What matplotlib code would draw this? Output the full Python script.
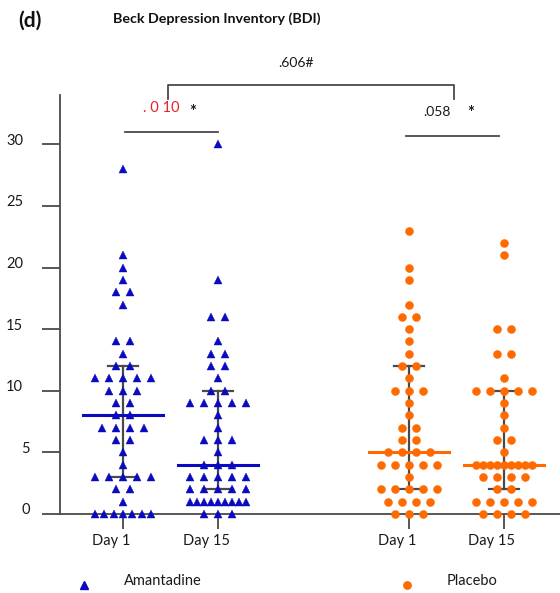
import numpy as np
import matplotlib
matplotlib.use("Agg")
import matplotlib.pyplot as plt
from matplotlib import transforms
from matplotlib.lines import Line2D

plt.rcParams['font.family'] = ['Lato', 'DejaVu Sans']

# ---------------- data ----------------
groups = ["Amantadine", "Amantadine", "Placebo", "Placebo"]
days = ["Day 1", "Day 15", "Day 1", "Day 15"]
positions = [0, 1, 3, 4]

amantadine_day1 = [0, 0, 0, 0, 0, 0, 0, 1, 2, 2, 3, 3, 3, 3, 3, 4, 5, 6, 6,
                   7, 7, 7, 7, 8, 8, 9, 9, 10, 10, 10, 11, 11, 11, 11, 11,
                   12, 12, 13, 14, 14, 17, 18, 18, 19, 20, 21, 28]
amantadine_day15 = [0, 0, 0, 1, 1, 1, 1, 1, 1, 1, 1, 1, 2, 2, 2, 2, 2,
                    3, 3, 3, 3, 3, 4, 4, 4, 5, 6, 6, 6, 7, 8, 9, 9, 9, 9, 9,
                    10, 10, 11, 12, 12, 13, 13, 14, 16, 16, 19, 30]
placebo_day1 = [0, 0, 0, 1, 1, 1, 1, 2, 2, 2, 2, 2, 3, 4, 4, 4, 4, 4,
                5, 5, 5, 5, 6, 6, 7, 7, 8, 9, 10, 10, 10, 11, 12, 12,
                13, 14, 15, 16, 16, 17, 19, 20, 23]
placebo_day15 = [0, 0, 0, 0, 1, 1, 1, 1, 1, 2, 2, 3, 3, 3, 3,
                 4, 4, 4, 4, 4, 4, 4, 4, 4, 5, 6, 6, 7, 8, 9,
                 10, 10, 10, 10, 10, 11, 13, 13, 15, 15, 21, 22]
series = [amantadine_day1, amantadine_day15, placebo_day1, placebo_day15]

medians = [8, 4, 5, 4]
q1 = [3, 2, 2, 2]
q3 = [12, 10, 12, 10]

y_ticks = [0, 5, 10, 15, 20, 25, 30]

p_amantadine = ". 0 10"
p_placebo = ".058"
p_between = ".606#"

colors = {"Amantadine": "#0A0ABF", "Placebo": "#FF6A00"}
markers = {"Amantadine": "^", "Placebo": "o"}
msizes = {"Amantadine": 6.3, "Placebo": 5.8}
line_col = "#4a4a4a"
text_col = "#1a1a1a"

# ---------------- figure ----------------
W, H = 560, 593
fig = plt.figure(figsize=(W / 100, H / 100), dpi=100)
ax_left, ax_right, ax_top, ax_bottom = 60, 560, 95, 514
ax = fig.add_axes([ax_left / W, (H - ax_bottom) / H,
                   (ax_right - ax_left) / W, (ax_bottom - ax_top) / H])
ax.set_xlim(-0.661, 4.588)
ax.set_ylim(0, 34.0)

px_x = (4.588 + 0.661) / (ax_right - ax_left)   # data units per px (x)
px_y = 34.0 / (ax_bottom - ax_top)              # data units per px (y)


def swarm_offsets(values, step, max_half):
    vals = np.asarray(values)
    xs = np.zeros(len(vals))
    for v in np.unique(vals):
        idx = np.where(vals == v)[0]
        n = len(idx)
        if n > 1:
            s = min(step, 2 * max_half / (n - 1))
            xs[idx] = (np.arange(n) - (n - 1) / 2) * s
    return xs


for pos, vals, grp, med, lo, hi in zip(positions, series, groups, medians, q1, q3):
    c = colors[grp]
    # IQR whisker
    ax.plot([pos, pos], [lo, hi], color=line_col, lw=1.6, zorder=2)
    cap = 15 * px_x
    ax.plot([pos - cap, pos + cap], [lo, lo], color=line_col, lw=1.6, zorder=2)
    ax.plot([pos - cap, pos + cap], [hi, hi], color=line_col, lw=1.6, zorder=2)
    # median
    mw = 40 * px_x
    ax.plot([pos - mw, pos + mw], [med, med], color=c, lw=2.2, zorder=4)
    # points
    offs = swarm_offsets(vals, 14 * px_x, 28 * px_x)
    ax.plot(pos + offs, vals, linestyle="none", marker=markers[grp],
            ms=msizes[grp], color=c, mec=c, mew=0.3, zorder=3, clip_on=False)

# axes styling
for s in ["top", "right"]:
    ax.spines[s].set_visible(False)
for s in ["left", "bottom"]:
    ax.spines[s].set_color(line_col)
    ax.spines[s].set_linewidth(1.3)
    ax.spines[s].set_zorder(1)
ax.set_yticks(y_ticks)
ax.set_yticklabels([])
ax.set_xticks(positions)
ax.set_xticklabels([])
ax.tick_params(axis="y", length=13, width=1.3, color=line_col, direction="out")
ax.tick_params(axis="x", length=10.5, width=1.3, color=line_col, direction="out")

# y tick labels
ytr = ax.get_yaxis_transform() + transforms.ScaledTranslation(0, 0.035, fig.dpi_scale_trans)
for t in y_ticks:
    lab = str(t)
    xr = (30 - 6.8 * (len(lab) - 1) - ax_left) / (ax_right - ax_left)
    ax.text(xr, t, lab, transform=ytr, ha="right", va="center", fontsize=10.5,
            color=text_col)

# x tick labels
xtr = ax.get_xaxis_transform() + transforms.ScaledTranslation(-0.12, 0, fig.dpi_scale_trans)
for pos, d in zip(positions, days):
    ax.text(pos, -(541 - ax_bottom) / (ax_bottom - ax_top), d, transform=xtr,
            ha="center", va="center", fontsize=10.5, color=text_col)

# ---------------- significance annotations ----------------
def ypx(p):
    return (ax_bottom - p) * px_y


def xpx(p):
    return (p - 123) * px_x


br_y, br_drop = ypx(85), ypx(99)
bl = (positions[0] + positions[1]) / 2 - 0.03
brr = (positions[2] + positions[3]) / 2 - 0.03
ax.plot([bl, bl, brr, brr], [br_drop, br_y, br_y, br_drop], color=line_col,
        lw=1.3, clip_on=False)
ax.text((bl + brr) / 2 - 0.15, ypx(63), p_between, ha="center", va="center",
        fontsize=10, color=text_col, clip_on=False)

ax.plot([positions[0] + 0.02, positions[1]], [ypx(132), ypx(132)],
        color=line_col, lw=1.3, clip_on=False)
ax.text(xpx(161.5), ypx(108), p_amantadine, ha="center", va="center",
        fontsize=10.5, color="#E8202A", clip_on=False)
ax.text(xpx(193), ypx(112), "*", ha="center", va="center", fontsize=12,
        fontweight="bold", color=text_col, clip_on=False)

ax.plot([positions[2] - 0.03, positions[3] - 0.05], [ypx(136), ypx(136)],
        color=line_col, lw=1.3, clip_on=False)
ax.text(xpx(436.5), ypx(112), p_placebo, ha="center", va="center",
        fontsize=10, color=text_col, clip_on=False)
ax.text(xpx(471), ypx(113), "*", ha="center", va="center", fontsize=12,
        fontweight="bold", color=text_col, clip_on=False)

# ---------------- titles ----------------
fig.text(18 / W, 1 - 21 / H, "(d)", ha="left", va="center", fontsize=15,
         fontweight="bold", color="#111111")
fig.text(113 / W, 1 - 19 / H, "Beck Depression Inventory (BDI)", ha="left",
         va="center", fontsize=10.3, fontweight="bold", color="#111111")

# ---------------- legend ----------------
leg = [("Amantadine", 84, 124), ("Placebo", 407, 447)]
for grp, mx, tx in leg:
    fig.add_artist(Line2D([mx / W], [1 - 585 / H], transform=fig.transFigure,
                          marker=markers[grp], ms=msizes[grp] - 0.5,
                          color=colors[grp], linestyle="none"))
    fig.text(tx / W, 1 - 581 / H, grp, ha="left", va="center", fontsize=10.5,
             color=text_col)

fig.savefig("out.png", dpi=100)
